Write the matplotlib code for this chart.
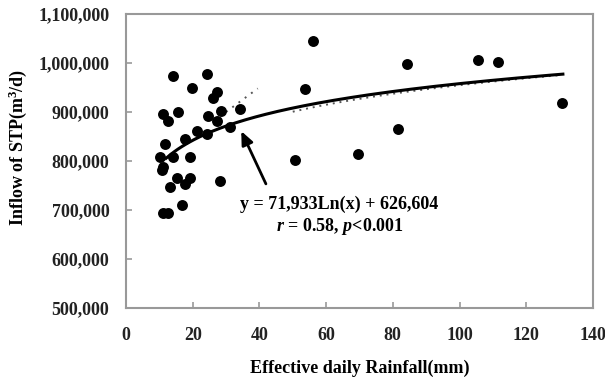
import numpy as np
import matplotlib
matplotlib.use("Agg")
from matplotlib import pyplot as plt
from matplotlib.ticker import FuncFormatter

plt.rcParams['font.family'] = ['Liberation Serif', 'DejaVu Serif']
plt.rcParams['font.weight'] = 'bold'
plt.rcParams['mathtext.fontset'] = 'custom'
plt.rcParams['mathtext.rm'] = 'Liberation Serif:bold'
plt.rcParams['mathtext.it'] = 'Liberation Serif:italic:bold'
plt.rcParams['mathtext.bf'] = 'Liberation Serif:bold'
plt.rcParams['mathtext.default'] = 'rm'

## observed data (rainfall mm, inflow m3/d)
rain = [14.2, 24.4, 19.7, 26.2, 27.2, 11.0, 12.7, 15.7, 24.7, 27.2,
        28.5, 34.2, 31.2, 21.2, 24.4, 17.7, 11.7, 10.2, 14.2, 19.2,
        11.2, 10.7, 15.2, 19.2, 17.7, 13.2, 28.2, 16.7, 11.2, 12.7,
        56.2, 53.7, 50.7, 69.6, 81.6, 84.4, 105.4, 111.6, 130.6]
inflow = [973000, 977000, 948000, 929000, 940000, 895000, 881000, 900000, 892000, 881000,
          902000, 907000, 870000, 861000, 854000, 844000, 834000, 808000, 808000, 808000,
          787000, 781000, 765000, 765000, 752000, 747000, 760000, 711000, 694000, 694000,
          1045000, 946000, 801000, 815000, 866000, 997000, 1006000, 1002000, 919000]

## log fit  y = a ln(x) + b
fit_a = 71933
fit_b = 626604
fit_range = [12, 131]

## dotted reference curves
dot1_x = [30, 39.5]
dot1_y = [900000, 948000]
dot2_a = 78100
dot2_b = 595000
dot2_range = [50, 130]

fig = plt.figure(figsize=(6.05, 3.8), dpi=100)
ax = fig.add_axes([0.2083, 0.19, 0.7717, 0.773])

ax.scatter(rain, inflow, s=62, color='black', zorder=3, linewidths=0)

xf = np.linspace(fit_range[0], fit_range[1], 200)
ax.plot(xf, fit_a * np.log(xf) + fit_b, color='black', lw=2.2, zorder=2)

ax.plot(dot1_x, dot1_y, color='#555555', lw=1.4, ls=(0, (1, 3)), zorder=1)
xd = np.linspace(dot2_range[0], dot2_range[1], 100)
ax.plot(xd, dot2_a * np.log(xd) + dot2_b, color='#555555', lw=1.4, ls=(0, (1, 2.5)), zorder=1)

ax.annotate('', xy=(34.2, 866000), xytext=(42.3, 748000),
            arrowprops=dict(arrowstyle='-|>,head_length=0.8,head_width=0.35',
                            color='black', lw=2))
ax.text(64, 712000, 'y = 71,933Ln(x) + 626,604', ha='center', va='center',
        fontsize=13, fontweight='bold')
ax.text(64, 667000, r'$\mathit{r}$ = 0.58, $\mathit{p}$<0.001', ha='center', va='center',
        fontsize=13, fontweight='bold')

ax.set_xlim(0, 140)
ax.set_ylim(500000, 1100000)
ax.set_xticks(np.arange(0, 141, 20))
ax.set_yticks(np.arange(500000, 1100001, 100000))
ax.yaxis.set_major_formatter(FuncFormatter(lambda v, p: f'{int(v):,}'))

for s in ax.spines.values():
    s.set_color('#999999')
    s.set_linewidth(1.5)
ax.tick_params(direction='in', length=4, width=1.2, color='#999999',
               labelsize=13, labelcolor='#222222')
ax.tick_params(axis='x', pad=14)
ax.tick_params(axis='y', pad=12)
for lab in ax.get_xticklabels() + ax.get_yticklabels():
    lab.set_fontweight('bold')

ax.set_xlabel('Effective daily Rainfall(mm)', fontsize=13, fontweight='bold')
ax.set_ylabel('Inflow of STP(m$^3$/d)', fontsize=13, fontweight='bold')
ax.xaxis.set_label_coords(0.5, -0.175)
ax.yaxis.set_label_coords(-0.208, 0.545)

fig.savefig('out.png', dpi=100)
